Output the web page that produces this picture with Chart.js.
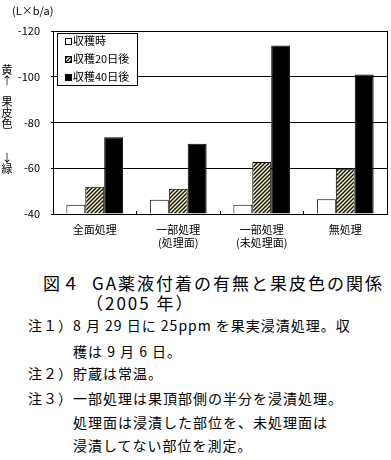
<!DOCTYPE html>
<html>
<head>
<meta charset="utf-8">
<script src="https://cdn.jsdelivr.net/npm/chart.js@4"></script>
<style>
  body { margin: 0; background: #fff; width: 391px; height: 460px; position: relative; overflow: hidden; font-family: 'Noto Sans CJK JP', sans-serif; color: #000; }
  #wrap { position: absolute; left: 0; top: 0; }
  .t { position: absolute; white-space: nowrap; line-height: 1; }
  .yt { position: absolute; left: 0; width: 14px; text-align: center; font-size: 11px; line-height: 1; }
  .cap { font-size: 17px; letter-spacing: 2px; }
  .note { font-size: 14px; letter-spacing: 1px; }
</style>
</head>
<body>
<div id="wrap"><canvas id="chart" width="391" height="250"></canvas></div>

<div class="t" style="left:12px;top:5px;font-size:11px">(L×b/a)</div>

<!-- vertical y-axis title -->
<div class="yt" style="top:64px">黄</div>
<div class="yt" style="top:75px">↑</div>
<div class="yt" style="top:96px">果</div>
<div class="yt" style="top:107px">皮</div>
<div class="yt" style="top:118px">色</div>
<div class="yt" style="top:152px">↓</div>
<div class="yt" style="top:163px">緑</div>

<!-- caption -->
<div class="t cap" style="left:43px;top:274px">図４</div>
<div class="t cap" style="left:92px;top:274px">GA薬液付着の有無と果皮色の関係</div>
<div class="t cap" style="left:86px;top:294px">（2005 年）</div>

<!-- notes -->
<div class="t note" style="left:28px;top:318px">注１）8 月 29 日に 25ppm を果実浸漬処理。収</div>
<div class="t note" style="left:73px;top:344px">穫は 9 月 6 日。</div>
<div class="t note" style="left:28px;top:366px">注２）貯蔵は常温。</div>
<div class="t note" style="left:28px;top:391px">注３）一部処理は果頂部側の半分を浸漬処理。</div>
<div class="t note" style="left:73px;top:415px">処理面は浸漬した部位を、未処理面は</div>
<div class="t note" style="left:73px;top:438px">浸漬してない部位を測定。</div>

<script>
// chart data
const categories = [['全面処理'], ['一部処理', '(処理面)'], ['一部処理', '(未処理面)'], ['無処理']];
const seriesNames = ['収穫時', '収穫20日後', '収穫40日後'];
const atHarvest = [-44, -46.2, -44, -46.5];
const after20 = [-51.9, -51, -62.7, -59.8];
const after40 = [-73.6, -70.7, -113.7, -101];
const yTicks = [-120, -100, -80, -60, -40];

const FONT = "'Noto Sans CJK JP', sans-serif";

// diagonal hatch for the 20-day series
function makeHatch() {
  const c = document.createElement('canvas');
  c.width = 4; c.height = 4;
  const g = c.getContext('2d');
  g.fillStyle = '#f6f2cc';
  g.fillRect(0, 0, 4, 4);
  g.strokeStyle = '#111100';
  g.lineWidth = 1.4;
  g.beginPath();
  g.moveTo(0, 4); g.lineTo(4, 0);
  g.moveTo(-1, 1); g.lineTo(1, -1);
  g.moveTo(3, 5); g.lineTo(5, 3);
  g.stroke();
  return g.createPattern(c, 'repeat');
}

// boxed legend inside the plot, top-left
const boxLegend = {
  id: 'boxLegend',
  afterDatasetsDraw(chart) {
    const { ctx, chartArea } = chart;
    const x = chartArea.left + 4, y = chartArea.top + 2, w = 80, h = 52;
    ctx.save();
    ctx.fillStyle = '#fff';
    ctx.fillRect(x, y, w, h);
    ctx.strokeStyle = '#000';
    ctx.lineWidth = 1;
    ctx.strokeRect(x + 0.5, y + 0.5, w, h);
    ctx.font = '11px ' + FONT;
    ctx.textBaseline = 'middle';
    chart.data.datasets.forEach((ds, i) => {
      const cy = y + 8 + i * 18;
      ctx.fillStyle = ds.backgroundColor;
      ctx.fillRect(x + 8, cy - 3, 6, 6);
      ctx.strokeRect(x + 8.5, cy - 2.5, 6, 6);
      ctx.fillStyle = '#000';
      ctx.fillText(ds.label, x + 16, cy);
    });
    ctx.restore();
  }
};

const fills = ['#ffffff', makeHatch(), '#000000'];
const values = [atHarvest, after20, after40];

new Chart(document.getElementById('chart'), {
  type: 'bar',
  data: {
    labels: categories,
    datasets: seriesNames.map((name, i) => ({
      label: name,
      data: values[i],
      backgroundColor: fills[i],
      borderColor: '#000',
      borderWidth: 1,
      base: yTicks[yTicks.length - 1],
      barPercentage: 1,
      categoryPercentage: 0.68
    }))
  },
  options: {
    responsive: false,
    animation: false,
    layout: { padding: { top: 31, right: 0, bottom: 0, left: 0 } },
    plugins: { legend: { display: false }, tooltip: { enabled: false } },
    scales: {
      x: {
        afterFit: s => { s.height = 36; },
        grid: { display: true, drawOnChartArea: false, color: '#000', tickLength: -3 },
        border: { display: true, color: '#000' },
        ticks: { color: '#000', font: { family: FONT, size: 11, lineHeight: 1.2 }, padding: 12, maxRotation: 0 }
      },
      y: {
        reverse: true,
        min: yTicks[0],
        max: yTicks[yTicks.length - 1],
        afterFit: s => { s.width = 53; },
        afterBuildTicks: s => { s.ticks = yTicks.map(v => ({ value: v })); },
        grid: { color: '#000', tickLength: 2 },
        border: { display: true, color: '#000' },
        ticks: { color: '#000', font: { family: FONT, size: 11 }, padding: 11 }
      },
      yRight: {
        position: 'right',
        afterFit: s => { s.width = 4; },
        grid: { display: false },
        border: { display: true, color: '#000' },
        ticks: { display: false }
      }
    }
  },
  plugins: [boxLegend]
});
</script>
</body>
</html>
